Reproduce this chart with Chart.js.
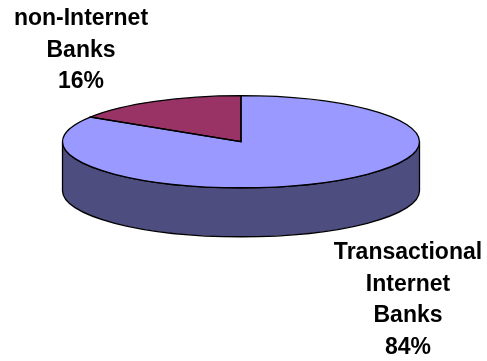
<!DOCTYPE html>
<html>
<head>
<meta charset="utf-8">
<script src="https://cdn.jsdelivr.net/npm/chart.js@4/dist/chart.umd.min.js"></script>
<style>
  html, body { margin: 0; padding: 0; background: #fff; }
  #wrap { width: 487px; height: 361px; }
</style>
</head>
<body>
<div id="wrap"><canvas id="pieChart" width="487" height="361"></canvas></div>
<script>
const categories = ['Transactional Internet Banks', 'non-Internet Banks'];
const shares = [84, 16];
const labelLines = [
    ['Transactional', 'Internet', 'Banks', '84%'],
    ['non-Internet', 'Banks', '16%']
];
const topColors = ['#9999FF', '#993366'];
const sideColors = ['#4D4D80', '#4D1A33'];

// look of the tilted cake
const tilt = 0.258;        // ry / rx of the top face
const depth = 49;          // height of the side wall
const topCenterY = 141.7;
const labelPos = [{ x: 408, y: 253 }, { x: 81, y: 19 }];
const lineGap = 31.5;

// parts of [s, e] that lie on the front (lower) half of the ellipse
function frontParts(s, e) {
    const TWO_PI = Math.PI * 2;
    const off = Math.floor(s / TWO_PI) * TWO_PI;
    s -= off;
    e -= off;
    let parts = [];
    [0, TWO_PI].forEach(base => {
        const a = Math.max(s, base);
        const b = Math.min(e, base + Math.PI);
        if (b > a) parts.push([a, b]);
    });
    return parts;
}

const pie3d = {
    id: 'pie3d',
    beforeDatasetsDraw(chart) {
        const ctx = chart.ctx;
        const arcs = chart.getDatasetMeta(0).data;
        const cx = arcs[0].x;
        const r = arcs[0].outerRadius;
        const ry = r * tilt;

        // side wall
        arcs.forEach((arc, i) => {
            frontParts(arc.startAngle, arc.endAngle).forEach(([s, e]) => {
                ctx.beginPath();
                ctx.ellipse(cx, topCenterY, r, ry, 0, s, e, false);
                ctx.ellipse(cx, topCenterY + depth, r, ry, 0, e, s, true);
                ctx.closePath();
                ctx.fillStyle = sideColors[i];
                ctx.fill();
                ctx.lineWidth = 1.3;
                ctx.strokeStyle = '#000';
                ctx.stroke();
            });
        });

        // squash the pie itself into the top face
        ctx.save();
        ctx.translate(cx, topCenterY);
        ctx.scale(1, tilt);
        ctx.translate(-cx, -arcs[0].y);
    },
    afterDatasetsDraw(chart) {
        const ctx = chart.ctx;
        ctx.restore();
        const arcs = chart.getDatasetMeta(0).data;
        const cx = arcs[0].x;
        const r = arcs[0].outerRadius;
        const ry = r * tilt;
        arcs.forEach(arc => {
            ctx.beginPath();
            ctx.moveTo(cx, topCenterY);
            ctx.ellipse(cx, topCenterY, r, ry, 0, arc.startAngle, arc.endAngle, false);
            ctx.closePath();
            ctx.lineWidth = 1.3;
            ctx.strokeStyle = '#000';
            ctx.stroke();
        });
    },
    afterDraw(chart) {
        const ctx = chart.ctx;
        ctx.save();
        ctx.font = 'bold 23px "Liberation Sans", Arial, sans-serif';
        ctx.fillStyle = '#000';
        ctx.textAlign = 'center';
        ctx.textBaseline = 'middle';
        labelLines.forEach((lines, i) => {
            lines.forEach((txt, j) => {
                ctx.fillText(txt, labelPos[i].x, labelPos[i].y + j * lineGap);
            });
        });
        ctx.restore();
    }
};

new Chart(document.getElementById('pieChart'), {
    type: 'pie',
    data: {
        labels: categories,
        datasets: [{
            data: shares,
            backgroundColor: topColors,
            borderWidth: 0
        }]
    },
    options: {
        responsive: false,
        animation: false,
        layout: { padding: { left: 62.5, right: 67.5, top: 2.5, bottom: 1.5 } },
        plugins: {
            legend: { display: false },
            tooltip: { enabled: false }
        }
    },
    plugins: [pie3d]
});
</script>
</body>
</html>
